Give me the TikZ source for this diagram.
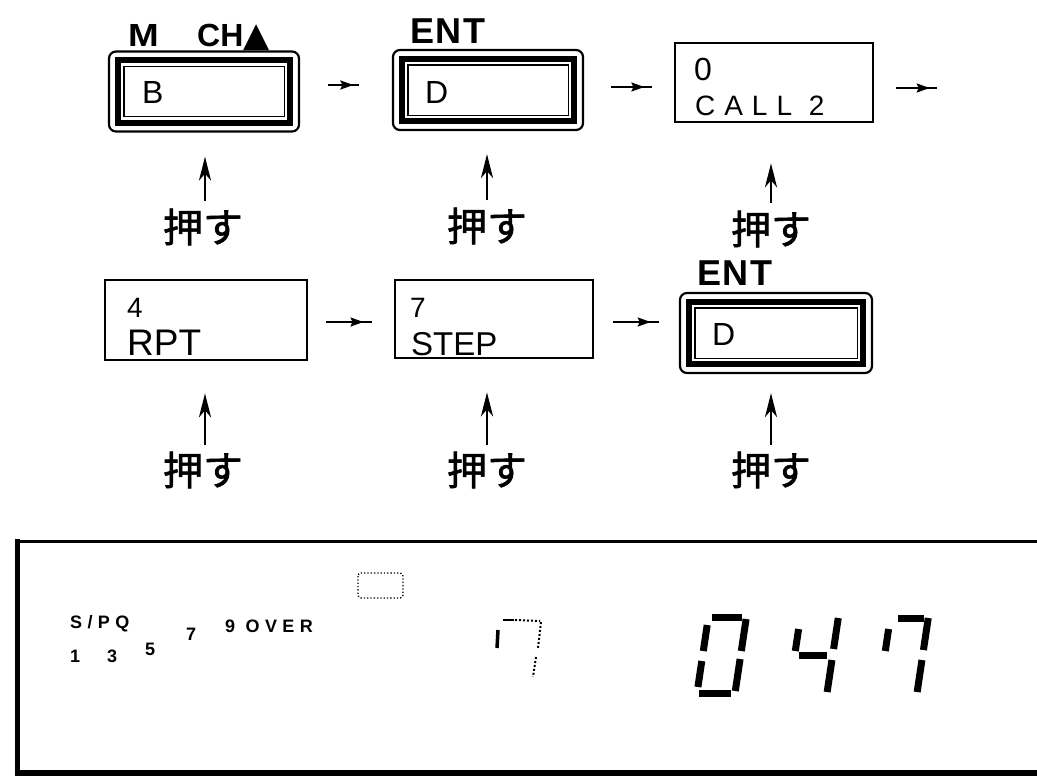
\documentclass[tikz,border=0pt]{standalone}
\usepackage{fontspec}
\setmainfont{Liberation Sans}
\newfontfamily\jp[FakeBold=1.5]{Noto Sans CJK JP}
\newfontfamily\sym{DejaVu Sans}
\usetikzlibrary{arrows.meta,decorations.markings,calc}
\newcommand\innerframe[1]{%
  \draw[line width=6pt] ([shift={(10,10)}]#1.north west) rectangle ([shift={(-10,-10)}]#1.south east);
  \draw[line width=1.2pt] ([shift={(16,16)}]#1.north west) rectangle ([shift={(-16,-16)}]#1.south east);}
\newcommand\fs[1]{\fontsize{#1}{#1}\selectfont}
\tikzset{
  lcdbox/.style={draw, line width=2.2pt, rounded corners=7pt, minimum width=#1, minimum height=80pt, inner sep=0pt},
  plainbox/.style={draw, line width=2.6pt, minimum width=#1, minimum height=79pt, inner sep=0pt},
  txt/.style={anchor=base west, inner sep=0pt},
  push/.style={font=\jp\fs{40}, inner sep=0pt},
  varr/.style={line width=2.4pt, -{Stealth[length=24pt,width=12pt,inset=7pt]}},
  harr/.style={line width=1.8pt, postaction={decorate},
    decoration={markings, mark=at position 0.82 with {\arrow{Stealth[length=13pt,width=9pt,inset=2pt]}}}},
  seg/.style={line width=7pt},
  paneltxt/.style={anchor=base west, inner sep=0pt, font=\bfseries\fs{18}\addfontfeature{LetterSpace=30}},
}
\begin{document}
\begin{tikzpicture}[x=1pt,y=-1pt]
\useasboundingbox (0,0) rectangle (1037,777);

% ---- row 1 ----
\node[lcdbox=190pt] (b1) at (204,91.5) {};
\innerframe{b1}
\node[txt, font=\bfseries\fs{32}\addfontfeature{FakeStretch=1.15}] (m1) at (128,46) {M};
\node[txt, font=\bfseries\fs{32}] (ch1) at (197,46) {CH{\sym\fs{34}▲}};
\node[txt, font=\fs{32}] (t1) at (142,103) {B};

\node[lcdbox=190pt] (b2) at (488,90) {};
\innerframe{b2}
\node[txt, font=\bfseries\fs{36}\addfontfeature{LetterSpace=4}] (e2) at (410,43) {ENT};
\node[txt, font=\fs{32}] (t2) at (425,103) {D};

\node[plainbox=198pt] (b3) at (774,82.5) {};
\node[txt, font=\fs{32}] (t3a) at (694,80) {0};
\node[txt, font=\fs{28}\addfontfeature{LetterSpace=32}] (t3b) at (695,115) {CALL 2};
\coordinate (out) at (937,88);

\draw[harr] ([shift={(28,-6.5)}]b1.east) -- ([shift={(-33,-5)}]b2.west);
\draw[harr] ([shift={(27,-3)}]b2.east) -- ([shift={(-22,4.5)}]b3.west);
\draw[harr] ([shift={(22,5.5)}]b3.east) -- (out);

\node[push] (p1) at (203,227) {押す};
\node[push] (p2) at (487,226) {押す};
\node[push] (p3) at (771,229) {押す};
\draw[varr, shorten <=7pt, shorten >=24pt] ([xshift=2pt]p1.north) -- ([xshift=2pt]p1.north |- b1.south);
\draw[varr, shorten <=7pt, shorten >=23pt] (p2.north) -- (p2.north |- b2.south);
\draw[varr, shorten <=7pt, shorten >=40pt] (p3.north) -- (p3.north |- b3.south);

% ---- row 2 ----
\node[plainbox=202pt, minimum height=80pt] (b4) at (206,320) {};
\node[txt, font=\fs{28}] (t4a) at (127,317) {4};
\node[txt, font=\fs{37}] (t4b) at (127,355) {RPT};

\node[plainbox=198pt, minimum height=78pt] (b5) at (494,319) {};
\node[txt, font=\fs{28}] (t5a) at (410,317) {7};
\node[txt, font=\fs{33}] (t5b) at (411,355) {STEP};

\node[lcdbox=192pt] (b6) at (776,333) {};
\innerframe{b6}
\node[txt, font=\bfseries\fs{36}\addfontfeature{LetterSpace=4}] (e6) at (697,285) {ENT};
\node[txt, font=\fs{32}] (t6) at (712,345) {D};

\draw[harr] ([shift={(18,2)}]b4.east) -- ([shift={(-22,3)}]b5.west);
\draw[harr] ([shift={(19,3)}]b5.east) -- ([shift={(-20,-11)}]b6.west);

\node[push] (p4) at (203,470) {押す};
\node[push] (p5) at (487,470) {押す};
\node[push] (p6) at (771,470) {押す};
\draw[varr, shorten <=6pt, shorten >=32pt] ([xshift=2pt]p4.north) -- ([xshift=2pt]p4.north |- b4.south);
\draw[varr, shorten <=6pt, shorten >=33pt] (p5.north) -- (p5.north |- b5.south);
\draw[varr, shorten <=6pt, shorten >=19pt] (p6.north) -- (p6.north |- b6.south);

% ---- display panel ----
\draw[line width=2.5pt] (1045,541.5) -- (15,541.5);
\draw[line width=5pt] (17.5,539) -- (17.5,775);
\draw[line width=6pt] (15,773) -- (1045,773);

\node[paneltxt] (sp) at (70,628) {S/PQ};
\node[paneltxt] (ov) at (225,632) {9 OVER};
\node[paneltxt] (n1) at (70,662) {1};
\node[paneltxt] (n3) at (107,662) {3};
\node[paneltxt] (n5) at (145,655) {5};
\node[paneltxt] (n7) at (186,640) {7};

\draw[line width=1.3pt, dotted, rounded corners=3pt] (358,573) rectangle (403,598);

% faint 7
\draw[line width=2pt] (503,620) -- (514,620);
\draw[line width=2pt, dotted] (515,620) -- (540,621);
\draw[line width=3.5pt] (498,630) -- (497,648);
\draw[line width=2pt, dotted] (541,622) -- (538,648);
\draw[line width=2pt, dotted] (536,657) -- (533,677);

% big seven-segment digits 0 4 7
\begin{scope}[shift={(697,693)}, xslant=0.15]
  \draw[seg] (4,-76) -- (34,-76);
  \draw[seg] (0,-68) -- (0,-42);
  \draw[seg] (38,-74) -- (38,-42);
  \draw[seg] (0,-32) -- (0,-6);
  \draw[seg] (38,-34) -- (38,-2);
  \draw[seg] (2,0) -- (34,0);
\end{scope}
\begin{scope}[shift={(789,693)}, xslant=0.15]
  \draw[seg] (0,-64) -- (0,-42);
  \draw[seg] (38,-75) -- (38,-44);
  \draw[seg] (4,-38) -- (32,-38);
  \draw[seg] (38,-33) -- (38,-1);
\end{scope}
\begin{scope}[shift={(879,693)}, xslant=0.15]
  \draw[seg] (8,-75) -- (34,-75);
  \draw[seg] (0,-64) -- (0,-42);
  \draw[seg] (38,-75) -- (38,-43);
  \draw[seg] (38,-33) -- (38,-1);
\end{scope}
\end{tikzpicture}
\end{document}
